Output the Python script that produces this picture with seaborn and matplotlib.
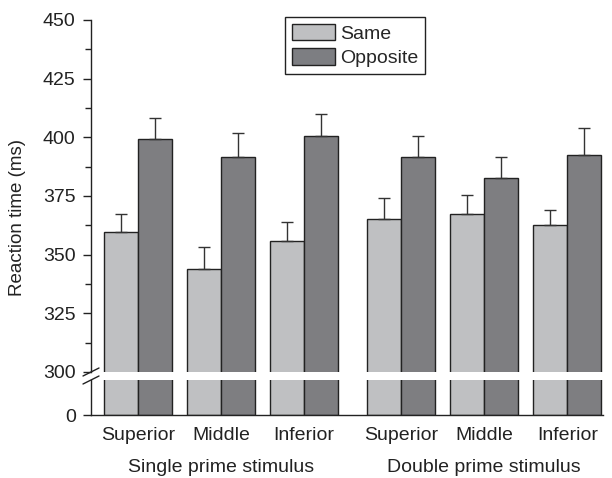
import numpy as np
import pandas as pd
import seaborn as sns
import matplotlib.pyplot as plt
from matplotlib.ticker import MultipleLocator
from matplotlib.lines import Line2D
from matplotlib.patches import Patch
from matplotlib import transforms

# values (ms)
groups = ['Single prime stimulus', 'Double prime stimulus']
locations = ['Superior', 'Middle', 'Inferior']
conditions = ['Same', 'Opposite']
same_rt = [359.5, 344.0, 356.0, 365.0, 367.5, 362.5]
same_err = [8.0, 9.2, 7.8, 9.2, 7.9, 6.4]
opposite_rt = [399.3, 391.8, 400.5, 391.8, 382.5, 392.5]
opposite_err = [8.8, 10.0, 9.3, 8.7, 9.0, 11.5]

sns.set_style('ticks')
plt.rcParams['font.family'] = ['Liberation Sans', 'DejaVu Sans']
plt.rcParams['axes.edgecolor'] = '#222222'
plt.rcParams['axes.linewidth'] = 1.0

# build a long table; second group shifted right a bit to leave a gap
rows = []
for g, group in enumerate(groups):
    for i, loc in enumerate(locations):
        k = g * 3 + i
        pos = i + g * 3.17
        rows.append({'pos': pos, 'group': group, 'location': loc,
                     'condition': 'Same', 'rt': same_rt[k], 'err': same_err[k]})
        rows.append({'pos': pos, 'group': group, 'location': loc,
                     'condition': 'Opposite', 'rt': opposite_rt[k], 'err': opposite_err[k]})
df = pd.DataFrame(rows)

palette = {'Same': '#bfc0c2', 'Opposite': '#7d7e82'}
edge = '#222222'

W, H = 612, 478
fig = plt.figure(figsize=(W / 100, H / 100), dpi=100)


def box(left, top, right, bottom):
    return [left / W, 1 - bottom / H, (right - left) / W, (bottom - top) / H]


ax_top = fig.add_axes(box(91, 20, 603, 372))
ax_bot = fig.add_axes(box(91, 380, 603, 415), sharex=ax_top)

for ax in (ax_top, ax_bot):
    sns.barplot(data=df, x='pos', y='rt', hue='condition', hue_order=conditions,
                native_scale=True, width=0.82, palette=palette, edgecolor=edge,
                linewidth=1.0, errorbar=None, legend=False, ax=ax)
    ax.set_xlabel('')
    ax.set_ylabel('')
    ax.spines['top'].set_visible(False)
    ax.spines['right'].set_visible(False)
    ax.tick_params(axis='y', which='major', length=6, width=1, labelsize=14,
                   pad=5, colors='#222222')

# upper error bars only
for cont, cond in zip(ax_top.containers, conditions):
    sub = df[df['condition'] == cond]
    xs = [p.get_x() + p.get_width() / 2 for p in cont]
    ys = [p.get_height() for p in cont]
    ax_top.errorbar(xs, ys, yerr=[np.zeros(len(sub)), sub['err'].values],
                    fmt='none', ecolor='#333333', elinewidth=1.0,
                    capsize=4, capthick=1.0, zorder=3)

# top part of the broken axis
ax_top.set_ylim(300, 450)
ax_top.yaxis.set_major_locator(MultipleLocator(25))
ax_top.yaxis.set_minor_locator(MultipleLocator(12.5))
ax_top.tick_params(axis='y', which='minor', length=4, width=1, color='#222222')
ax_top.spines['bottom'].set_visible(False)
ax_top.tick_params(axis='x', bottom=False, labelbottom=False)

# bottom part
ax_bot.set_ylim(0, 15)
ax_bot.set_yticks([0])
positions = sorted(df['pos'].unique())
ax_bot.set_xticks(positions)
ax_bot.set_xticklabels(locations * len(groups))
ax_bot.tick_params(axis='x', length=0, pad=9, labelsize=14, colors='#222222')
ax_bot.set_xlim(-0.566, 5.60)

# group labels under the locations
trans = transforms.blended_transform_factory(ax_bot.transData, fig.transFigure)
for group in groups:
    center = df.loc[df['group'] == group, 'pos'].mean()
    ax_bot.text(center, 1 - 468 / H, group, transform=trans, ha='center',
                va='center', fontsize=14, color='#222222')

fig.text(18 / W, 1 - 217 / H, 'Reaction time (ms)', rotation=90,
         ha='center', va='center', fontsize=13.5, color='#222222')

# break marks on the y axis
for y_px in (372, 380):
    fig.add_artist(Line2D([83 / W, 99 / W], [1 - (y_px + 4) / H, 1 - (y_px - 4) / H],
                          color=edge, lw=1.0))

handles = [Patch(facecolor=palette[c], edgecolor=edge, linewidth=1.0) for c in conditions]
leg = ax_top.legend(handles, conditions, loc='upper left',
                    bbox_to_anchor=(285 / W, 1 - 17 / H), bbox_transform=fig.transFigure,
                    frameon=True, fancybox=False, edgecolor=edge, framealpha=1,
                    fontsize=14, handlelength=2.2, handleheight=0.9,
                    handletextpad=0.3, labelspacing=0.3, borderpad=0.35,
                    borderaxespad=0)
leg.get_frame().set_linewidth(1.0)

fig.savefig('out.png', dpi=100)
